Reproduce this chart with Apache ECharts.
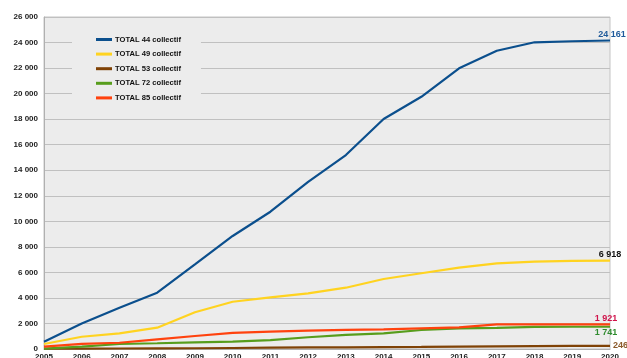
<!DOCTYPE html>
<html>
<head>
<meta charset="utf-8">
<script src="https://cdn.jsdelivr.net/npm/echarts@6/dist/echarts.min.js"></script>
<style>
  html, body { margin: 0; padding: 0; background: #fff; }
  #chart { width: 627px; height: 358px; }
</style>
</head>
<body>
<div id="chart"></div>
<script>
// Years on the horizontal axis
const years = ['2005','2006','2007','2008','2009','2010','2011','2012','2013','2014','2015','2016','2017','2018','2019','2020'];

// Cumulative totals per department (collectif housing)
const total44 = [570, 2000, 3230, 4410, 6620, 8850, 10750, 13080, 15190, 18010, 19750, 21980, 23360, 24020, 24100, 24161];
const total49 = [390, 960, 1230, 1670, 2880, 3700, 4050, 4360, 4800, 5480, 5930, 6370, 6710, 6840, 6900, 6918];
const total53 = [20, 30, 40, 50, 60, 80, 100, 120, 130, 150, 160, 180, 200, 220, 240, 246];
const total72 = [30, 180, 390, 450, 520, 570, 700, 920, 1100, 1230, 1490, 1620, 1660, 1740, 1741, 1741];
const total85 = [180, 400, 490, 760, 1020, 1260, 1360, 1440, 1490, 1540, 1620, 1700, 1930, 1921, 1921, 1921];

const seriesNames = ['TOTAL 44 collectif', 'TOTAL 49 collectif', 'TOTAL 53 collectif', 'TOTAL 72 collectif', 'TOTAL 85 collectif'];

const fmt = v => String(Math.round(v)).replace(/\B(?=(\d{3})+(?!\d))/g, ' ');

// One line per department, with the last value written near the end of the line
function lineSeries(name, values, color, labelColor, offset, align) {
  return {
    name: name,
    type: 'line',
    data: values,
    symbol: 'none',
    lineStyle: { color: color, width: 2.2 },
    itemStyle: { color: color },
    endLabel: {
      show: true,
      formatter: p => fmt(p.value),
      fontFamily: 'Liberation Sans',
      fontWeight: 'bold',
      fontSize: 9,
      color: labelColor,
      distance: 0,
      align: align || 'center',
      verticalAlign: 'middle',
      offset: offset
    },
    z: 3
  };
}

const chart = echarts.init(document.getElementById('chart'));
chart.setOption({
  animation: false,
  backgroundColor: '#ffffff',
  grid: {
    left: 44, right: 17, top: 17, bottom: 9,
    show: true,
    backgroundColor: '#ececec',
    borderColor: '#c4c4c4',
    borderWidth: 1,
    containLabel: false,
    outerBoundsMode: 'none'
  },
  legend: {
    orient: 'vertical',
    left: 72,
    top: 30,
    backgroundColor: '#ececec',
    padding: [5, 20, 5, 24],
    icon: 'rect',
    itemWidth: 16,
    itemHeight: 3,
    itemGap: 5.6,
    textStyle: { fontFamily: 'Liberation Sans', fontWeight: 'bold', fontSize: 7.6, color: '#111', lineHeight: 9, padding: [0, 0, 0, -2] },
    data: seriesNames
  },
  xAxis: {
    type: 'category',
    data: years,
    boundaryGap: false,
    axisLine: { lineStyle: { color: '#b0b0b0', width: 1 } },
    axisTick: { show: false },
    axisLabel: { fontFamily: 'Liberation Sans', fontWeight: 'bold', fontSize: 8, color: '#222', margin: 4 },
    splitLine: { show: false }
  },
  yAxis: {
    type: 'value',
    min: 0,
    max: 26000,
    interval: 2000,
    axisLine: { show: true, lineStyle: { color: '#b0b0b0', width: 1 } },
    axisTick: { show: false },
    axisLabel: { fontFamily: 'Liberation Sans', fontWeight: 'bold', fontSize: 8, color: '#222', margin: 6, formatter: fmt },
    splitLine: { show: true, lineStyle: { color: '#c0c0c0', width: 1.2 } }
  },
  series: [
    lineSeries(seriesNames[0], total44, '#0b4f8d', '#1f5a9a', [2, -6]),
    lineSeries(seriesNames[1], total49, '#ffd320', '#111', [0, -6]),
    lineSeries(seriesNames[2], total53, '#7f4206', '#8b5a2b', [3, 0], 'left'),
    lineSeries(seriesNames[3], total72, '#579d1c', '#2e8b2e', [-4, 6]),
    lineSeries(seriesNames[4], total85, '#ff420e', '#d0134b', [-4, -6])
  ]
});
</script>
</body>
</html>
